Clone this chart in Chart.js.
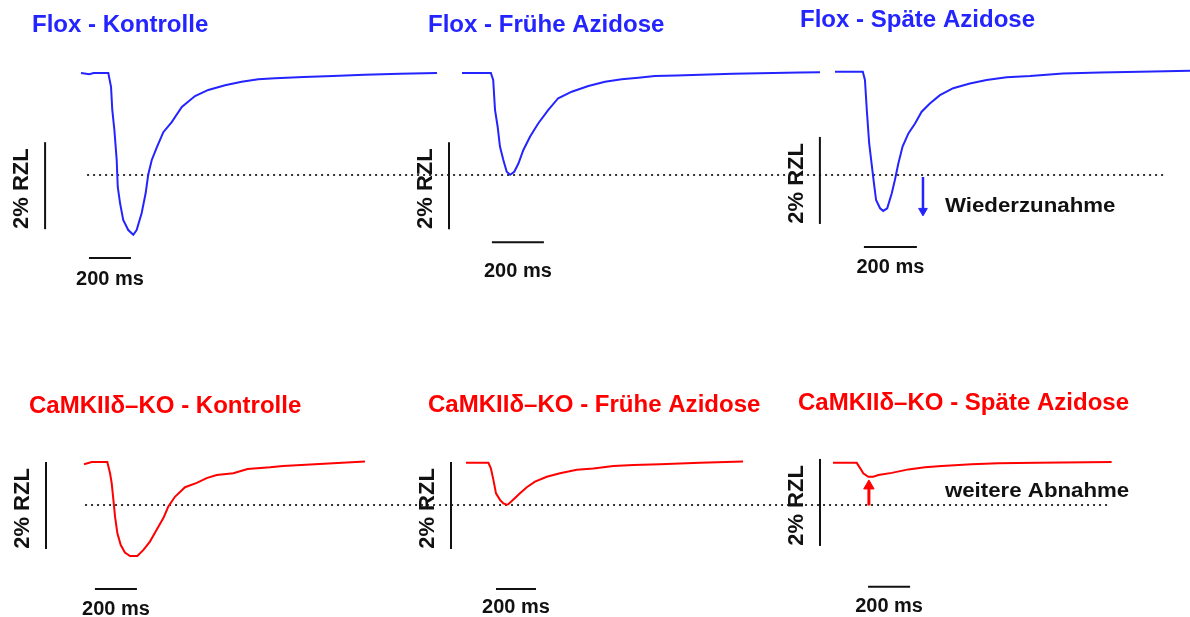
<!DOCTYPE html>
<html lang="de">
<head>
<meta charset="UTF-8">
<title>Zellverkürzung Flox / CaMKIIδ-KO</title>
<script src="https://cdn.jsdelivr.net/npm/chart.js@4"></script>
<style>
  html, body { margin: 0; padding: 0; background: #fff; }
  #wrap { width: 1190px; height: 617px; }
</style>
</head>
<body>
<div id="wrap"><canvas id="chart" width="1190" height="617"></canvas></div>
<script>
// Zeit (ms) und Zellverkürzung (% RZL)
const floxKontrolleT = [0, 40, 60, 130, 143, 149, 159, 170, 175, 186, 201, 225, 249, 265, 289, 308, 320, 337, 360, 392, 432, 480, 543, 606, 686, 765, 844, 924, 1060, 1200, 1350, 1519, 1695];
const floxKontrolleV = [0, -0.03, 0, 0, -0.32, -0.85, -1.31, -2.0, -2.62, -2.99, -3.38, -3.61, -3.72, -3.61, -3.22, -2.76, -2.34, -2.0, -1.72, -1.36, -1.13, -0.78, -0.53, -0.39, -0.28, -0.2, -0.145, -0.12, -0.09, -0.07, -0.04, -0.02, 0];

const floxFruehT = [0, 111, 120, 127, 137, 146, 159, 172, 185, 201, 217, 236, 262, 293, 332, 370, 422, 486, 550, 614, 678, 742, 825, 1042, 1300, 1377];
const floxFruehV = [0, 0, -0.16, -0.85, -1.23, -1.69, -2.0, -2.27, -2.34, -2.27, -2.08, -1.77, -1.46, -1.16, -0.85, -0.58, -0.43, -0.30, -0.2, -0.145, -0.11, -0.07, -0.06, -0.02, 0.01, 0.02];

const floxSpaetT = [0, 105, 113, 120, 129, 138, 147, 155, 170, 182, 197, 214, 226, 239, 255, 277, 302, 327, 358, 396, 446, 509, 572, 648, 736, 860, 1000, 1151, 1340];
const floxSpaetV = [0.03, 0.03, -0.16, -0.85, -1.62, -2.08, -2.54, -2.92, -3.11, -3.17, -3.11, -2.77, -2.46, -2.08, -1.69, -1.39, -1.16, -0.89, -0.70, -0.51, -0.35, -0.24, -0.16, -0.10, -0.07, -0.01, 0.01, 0.03, 0.05];

const koKontrolleT = [0, 37, 111, 124, 132, 140, 148, 159, 175, 195, 219, 254, 283, 314, 346, 378, 401, 433, 481, 537, 584, 632, 711, 779, 886, 948, 1186, 1338];
const koKontrolleV = [-0.05, 0, 0, -0.26, -0.49, -0.87, -1.26, -1.64, -1.91, -2.08, -2.16, -2.16, -2.02, -1.83, -1.56, -1.29, -1.03, -0.80, -0.58, -0.48, -0.37, -0.30, -0.26, -0.16, -0.12, -0.09, -0.03, 0.01];

const koFruehT = [0, 112, 124, 137, 150, 170, 187, 203, 212, 237, 270, 304, 345, 404, 470, 554, 637, 737, 837, 970, 1170, 1385];
const koFruehV = [-0.02, -0.02, -0.14, -0.41, -0.72, -0.87, -0.95, -0.98, -0.97, -0.86, -0.72, -0.58, -0.45, -0.34, -0.26, -0.18, -0.15, -0.09, -0.07, -0.05, -0.02, 0.01];

const koSpaetT = [0, 113, 129, 144, 168, 192, 216, 280, 359, 438, 518, 660, 787, 971, 1327];
const koSpaetV = [-0.02, -0.02, -0.14, -0.26, -0.34, -0.34, -0.30, -0.25, -0.17, -0.12, -0.09, -0.05, -0.03, -0.02, 0];

// Pfeile (Zeitpunkt, von/bis in % RZL)
const wiederzunahmeT = [332, 332];
const wiederzunahmeV = [-2.39, -3.17];
const abnahmeT = [171, 171];
const abnahmeV = [-1.0, -0.55];

const titel = ['Flox - Kontrolle', 'Flox - Frühe Azidose', 'Flox - Späte Azidose',
               'CaMKIIδ–KO - Kontrolle', 'CaMKIIδ–KO - Frühe Azidose', 'CaMKIIδ–KO - Späte Azidose'];
const balkenMs = 200;   // Zeitbalken
const balkenPct = 2;    // Amplitudenbalken

// Layout
const W = 1190, H = 617;
const PX_PRO_PCT = 43.5;
const BLAU = '#2424ff', ROT = '#ff0000';
const FONT = '"Liberation Sans", Arial, sans-serif';

const panels = [
  { x: 'x1', y: 'yOben', x0: 81,  pxMs: 0.21,  t: floxKontrolleT, v: floxKontrolleV, farbe: BLAU, titelX: 32,  titelY: 32,  vbar: [-171, -1.59], hbar: [38, -4.25],  msAbst: 27 },
  { x: 'x2', y: 'yOben', x0: 462, pxMs: 0.26,  t: floxFruehT,     v: floxFruehV,     farbe: BLAU, titelX: 428, titelY: 32,  vbar: [-50, -1.59],  hbar: [115, -3.89], msAbst: 35 },
  { x: 'x3', y: 'yOben', x0: 835, pxMs: 0.265, t: floxSpaetT,     v: floxSpaetV,     farbe: BLAU, titelX: 800, titelY: 27,  vbar: [-57, -1.47],  hbar: [109, -4.0],  msAbst: 26 },
  { x: 'x4', y: 'yUnten', x0: 84,  pxMs: 0.21, t: koKontrolleT,   v: koKontrolleV,   farbe: ROT,  titelX: 29,  titelY: 413, vbar: [-181, 0],     hbar: [52, -2.92],  msAbst: 26 },
  { x: 'x5', y: 'yUnten', x0: 466, pxMs: 0.20, t: koFruehT,       v: koFruehV,       farbe: ROT,  titelX: 428, titelY: 412, vbar: [-75, 0],      hbar: [150, -2.92], msAbst: 24 },
  { x: 'x6', y: 'yUnten', x0: 833, pxMs: 0.21, t: koSpaetT,       v: koSpaetV,       farbe: ROT,  titelX: 798, titelY: 410, vbar: [-62, 0.07],   hbar: [167, -2.87], msAbst: 25 }
];
const basisPx = { yOben: 73, yUnten: 462 };

// gepunktete Linie auf Höhe des Maximums der frühen Azidose
const referenz = [
  { y: 'yOben',  level: Math.min(...floxFruehV), von: ['x1', 29], bis: ['x3', 1253] },
  { y: 'yUnten', level: Math.min(...koFruehV),   von: ['x4', 5],  bis: ['x6', 1323] }
];
const hinweise = [
  { text: 'Wiederzunahme',   x: 'x3', y: 'yOben',  t: 415, v: -3.2 },
  { text: 'weitere Abnahme', x: 'x6', y: 'yUnten', t: 533, v: -0.8 }
];

const scales = {};
panels.forEach(p => {
  scales[p.x] = { type: 'linear', display: false, bounds: 'data', min: -p.x0 / p.pxMs, max: (W - p.x0) / p.pxMs };
});
Object.keys(basisPx).forEach(k => {
  scales[k] = { type: 'linear', display: false, bounds: 'data', min: (basisPx[k] - H) / PX_PRO_PCT, max: basisPx[k] / PX_PRO_PCT };
});

const datasets = panels.map(p => ({
  data: p.t.map((t, i) => ({ x: t, y: p.v[i] })),
  xAxisID: p.x, yAxisID: p.y,
  borderColor: p.farbe, borderWidth: 2, pointRadius: 0, tension: 0
}));
datasets.push({
  data: wiederzunahmeT.map((t, i) => ({ x: t, y: wiederzunahmeV[i] })),
  xAxisID: 'x3', yAxisID: 'yOben',
  borderColor: BLAU, borderWidth: 2.5,
  pointStyle: 'triangle', pointRadius: [0, 5], rotation: 180,
  pointBackgroundColor: BLAU, pointBorderColor: BLAU, pointBorderWidth: 1
});
datasets.push({
  data: abnahmeT.map((t, i) => ({ x: t, y: abnahmeV[i] })),
  xAxisID: 'x6', yAxisID: 'yUnten',
  borderColor: ROT, borderWidth: 3,
  pointStyle: 'triangle', pointRadius: [0, 6], rotation: 0,
  pointBackgroundColor: ROT, pointBorderColor: ROT, pointBorderWidth: 1
});

// Text im Original leicht in die Breite gezogen
function breitText(ctx, text, x, y, sx) {
  ctx.save();
  ctx.translate(x, y);
  ctx.scale(sx, 1);
  ctx.fillText(text, 0, 0);
  ctx.restore();
}

const beschriftung = {
  id: 'beschriftung',
  beforeDatasetsDraw(chart) {
    const ctx = chart.ctx;
    ctx.save();
    ctx.setLineDash([2, 4]);
    ctx.lineWidth = 2;
    ctx.strokeStyle = '#333';
    referenz.forEach(r => {
      const y = Math.round(chart.scales[r.y].getPixelForValue(r.level));
      ctx.beginPath();
      ctx.moveTo(chart.scales[r.von[0]].getPixelForValue(r.von[1]), y);
      ctx.lineTo(chart.scales[r.bis[0]].getPixelForValue(r.bis[1]), y);
      ctx.stroke();
    });
    ctx.restore();
  },
  afterDatasetsDraw(chart) {
    const ctx = chart.ctx;
    ctx.save();
    panels.forEach((p, i) => {
      const xs = chart.scales[p.x], ys = chart.scales[p.y];
      ctx.strokeStyle = '#111';
      ctx.lineWidth = 2;
      // Amplitudenbalken
      const vx = xs.getPixelForValue(p.vbar[0]);
      const vy1 = ys.getPixelForValue(p.vbar[1]);
      const vy2 = ys.getPixelForValue(p.vbar[1] - balkenPct);
      ctx.beginPath(); ctx.moveTo(vx, vy1); ctx.lineTo(vx, vy2); ctx.stroke();
      // Zeitbalken
      const hx1 = xs.getPixelForValue(p.hbar[0]);
      const hx2 = xs.getPixelForValue(p.hbar[0] + balkenMs);
      const hy = ys.getPixelForValue(p.hbar[1]);
      ctx.beginPath(); ctx.moveTo(hx1, hy); ctx.lineTo(hx2, hy); ctx.stroke();

      ctx.fillStyle = '#111';
      ctx.font = 'bold 20px ' + FONT;
      ctx.textAlign = 'center';
      ctx.textBaseline = 'alphabetic';
      ctx.fillText(balkenMs + ' ms', (hx1 + hx2) / 2, hy + p.msAbst);

      ctx.save();
      ctx.translate(vx - 17, (vy1 + vy2) / 2 + 3);
      ctx.rotate(-Math.PI / 2);
      ctx.font = 'bold 22px ' + FONT;
      ctx.fillText(balkenPct + '% RZL', 0, 0);
      ctx.restore();

      ctx.fillStyle = p.farbe;
      ctx.font = 'bold 23px ' + FONT;
      ctx.textAlign = 'left';
      breitText(ctx, titel[i], p.titelX, p.titelY, 1.045);
    });
    ctx.fillStyle = '#111';
    ctx.font = 'bold 21px ' + FONT;
    ctx.textAlign = 'left';
    hinweise.forEach(h => {
      breitText(ctx, h.text, chart.scales[h.x].getPixelForValue(h.t), chart.scales[h.y].getPixelForValue(h.v), 1.06);
    });
    ctx.restore();
  }
};

new Chart(document.getElementById('chart'), {
  type: 'line',
  data: { datasets },
  options: {
    responsive: false,
    animation: false,
    events: [],
    layout: { padding: 0, autoPadding: false },
    plugins: { legend: { display: false }, tooltip: { enabled: false } },
    scales
  },
  plugins: [beschriftung]
});
</script>
</body>
</html>
